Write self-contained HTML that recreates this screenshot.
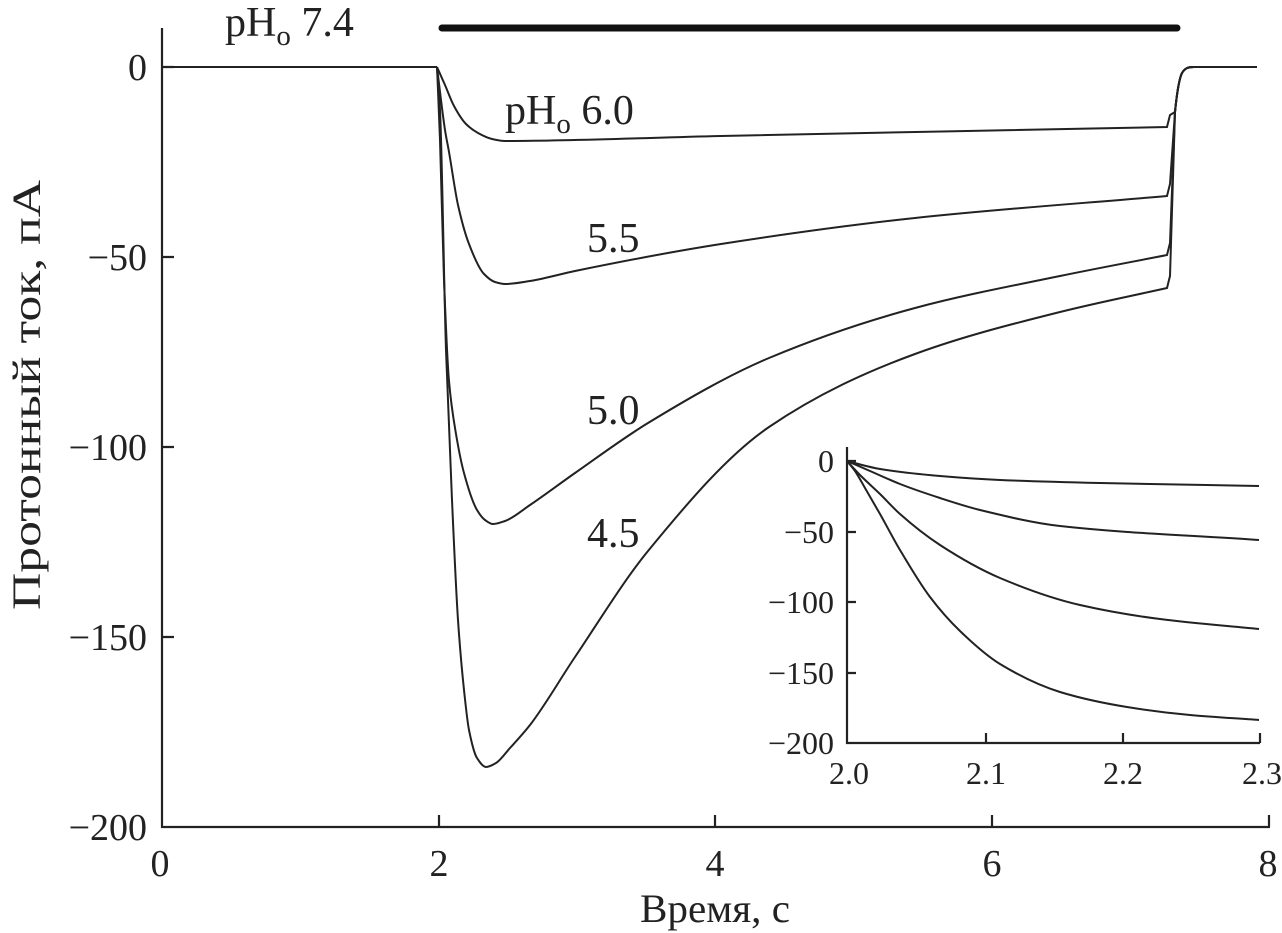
<!DOCTYPE html>
<html><head><meta charset="utf-8"><style>
body{margin:0;background:#fff}
svg{display:block}
text{font-family:"Liberation Serif",serif;fill:#222}
</style></head><body>
<svg id="s" width="1282" height="933" viewBox="0 0 1282 933" xmlns="http://www.w3.org/2000/svg">
<g stroke="#222" stroke-width="2.2" fill="none">
<path d="M162,28V827H1270"/>
<path d="M162,67h12M162,257h12M162,447h12M162,637h12M439,827v-12M715,827v-12M992,827v-12M1269,827v-12"/>
<path d="M847,447V743H1260"/>
<path d="M847,461h9M847,532h9M847,602h9M847,673h9M986,743v-10M1123,743v-10M1260,743v-10"/>
</g>
<line x1="442" y1="28" x2="1177" y2="28" stroke="#111" stroke-width="7" stroke-linecap="round"/>
<g font-size="38" text-anchor="end">
<text x="147" y="80">0</text><text x="147" y="270">−50</text><text x="147" y="460">−100</text><text x="147" y="650">−150</text><text x="147" y="840">−200</text>
</g>
<g font-size="38" text-anchor="middle">
<text x="160" y="876">0</text><text x="439" y="876">2</text><text x="715" y="876">4</text><text x="992" y="876">6</text><text x="1268" y="876">8</text>
</g>
<text x="715" y="922" font-size="40" text-anchor="middle" textLength="150" lengthAdjust="spacingAndGlyphs">Время, с</text>
<text transform="translate(40,395) rotate(-90)" font-size="40" text-anchor="middle" textLength="430" lengthAdjust="spacingAndGlyphs">Протонный ток, пА</text>
<g font-size="32" text-anchor="end">
<text x="834" y="472">0</text><text x="834" y="543">−50</text><text x="834" y="613">−100</text><text x="834" y="684">−150</text><text x="834" y="754">−200</text>
</g>
<g font-size="32" text-anchor="middle">
<text x="849" y="784">2.0</text><text x="986" y="784">2.1</text><text x="1123" y="784">2.2</text><text x="1262" y="784">2.3</text>
</g>
<text x="225" y="36" font-size="42">pH<tspan font-size="29" dy="9">o</tspan><tspan dy="-9"> 7.4</tspan></text>
<text x="505" y="124" font-size="42">pH<tspan font-size="29" dy="9">o</tspan><tspan dy="-9"> 6.0</tspan></text>
<text x="587" y="252" font-size="42">5.5</text>
<text x="587" y="424" font-size="42">5.0</text>
<text x="587" y="547" font-size="42">4.5</text>
<g id="curves" stroke="#222" stroke-width="2" fill="none"></g>
</svg>
<script>
function mono(p){const n=p.length,dx=[],m=[],t=[];for(let i=0;i<n-1;i++){dx[i]=p[i+1][0]-p[i][0];m[i]=(p[i+1][1]-p[i][1])/dx[i];}
t[0]=m[0];t[n-1]=m[n-2];for(let i=1;i<n-1;i++){t[i]=(m[i-1]*m[i]<=0)?0:3*(dx[i-1]+dx[i])/((2*dx[i]+dx[i-1])/m[i-1]+(dx[i]+2*dx[i-1])/m[i]);}
let d="";for(let i=0;i<n-1;i++){const h=dx[i]/3;d+=`C${(p[i][0]+h).toFixed(1)},${(p[i][1]+t[i]*h).toFixed(1)} ${(p[i+1][0]-h).toFixed(1)},${(p[i+1][1]-t[i+1]*h).toFixed(1)} ${p[i+1][0]},${p[i+1][1]}`;}return d;}
const C=[
[[437,67],[445,85],[454,106],[466,124],[478,133],[492,139],[505,141],[721,136],[1167,127]],
[[437,67],[441,100],[445,130],[449,152],[458,205],[469,244],[484,274],[495,282],[505,284],[530,281],[575,271],[721,244],[915,218],[1167,196]],
[[437,67],[440,140],[444,280],[449,381],[456,434],[464,473],[477,510],[485,520],[493,524],[505,521],[530,505],[575,473],[648,423],[769,358],[915,308],[1060,276],[1167,255]],
[[437,67],[440,110],[446,350],[452,500],[458,620],[464,690],[469,730],[477,758],[486,767],[496,763],[510,748],[530,725],[575,657],[648,551],[769,427],[915,354],[1060,312],[1167,288]],
[[847,461],[880,469],[940,476],[1000,480],[1100,483],[1259,486]],
[[847,461],[870,471],[900,484],[940,498],[980,510],[1060,526],[1259,540]],
[[847,461],[860,475],[880,494],[900,514],[940,545],[1000,578],[1080,605],[1160,619],[1259,629]],
[[847,461],[855,471],[865,488],[880,514],[900,550],[930,597],[960,631],[1000,664],[1060,692],[1127,707],[1190,715],[1259,720]]
];
let h=`<path d="M162,67H437"/>`;
C.forEach((p,i)=>{let d="M"+p[0][0]+","+p[0][1]+mono(p);
if(i<4){const y=p[p.length-1][1];d+=`L1170,${y-12} L1175,112 C1177,92 1179,79 1182,73 C1185,68 1188,67 1194,67 L1257,67`;}
h+=`<path d="${d}"/>`;});
document.getElementById("curves").innerHTML=h;
</script>
</body></html>
